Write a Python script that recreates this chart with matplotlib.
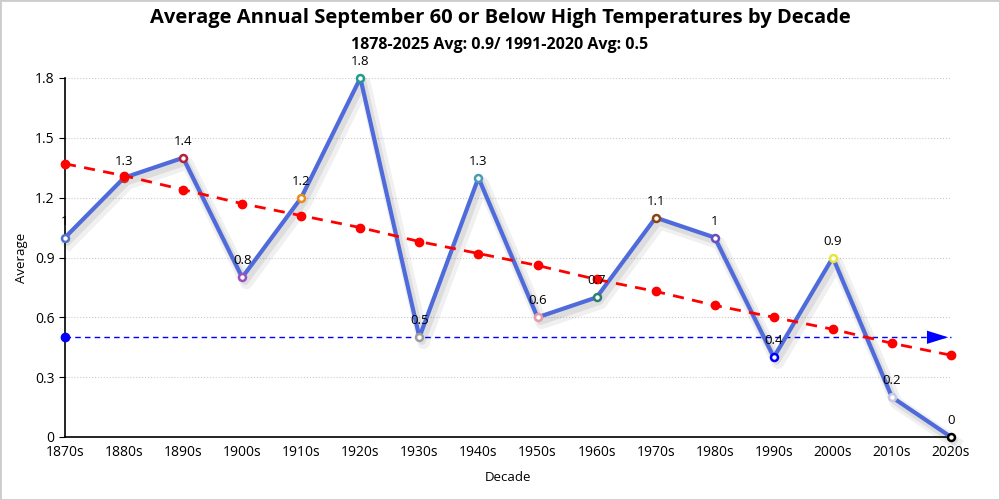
import numpy as np
import matplotlib.pyplot as plt
import matplotlib.patheffects as pe
from matplotlib.patches import Rectangle

plt.rcParams['font.family'] = ['Open Sans', 'DejaVu Sans']

# Data
decades = ['1870s', '1880s', '1890s', '1900s', '1910s', '1920s', '1930s', '1940s',
           '1950s', '1960s', '1970s', '1980s', '1990s', '2000s', '2010s', '2020s']
averages = [1, 1.3, 1.4, 0.8, 1.2, 1.8, 0.5, 1.3, 0.6, 0.7, 1.1, 1, 0.4, 0.9, 0.2, 0]
trend = [1.37, 1.31, 1.24, 1.17, 1.11, 1.05, 0.98, 0.92, 0.86, 0.79, 0.73, 0.66,
         0.60, 0.54, 0.47, 0.41]
normal_avg = 0.5
marker_colors = ['#5470c6', '#c23531', '#b0203f', '#9b4fc0', '#e88c1a', '#1f9c8c',
                 '#9e9e9e', '#4a9bb5', '#e89aa6', '#2e7d6e', '#8b4513', '#6a4fc0',
                 '#0000ff', '#e6e63c', '#c8c8e6', '#000000']

x = np.arange(len(decades))

fig = plt.figure(figsize=(10, 5), dpi=100)
ax = fig.add_axes([0.065, 0.126, 0.886, 0.718])

# main line with a soft shadow
shadow = [pe.SimpleLineShadow(offset=(3, -4), shadow_color='black', alpha=0.06, linewidth=9),
          pe.SimpleLineShadow(offset=(2, -3), shadow_color='black', alpha=0.08, linewidth=5),
          pe.Normal()]
ax.plot(x, averages, color='#4f6bdb', lw=3, zorder=3, clip_on=False, path_effects=shadow)
for xi, yi, c in zip(x, averages, marker_colors):
    ax.plot(xi, yi, marker='o', ms=5, mfc='white', mec=c, mew=1.8, zorder=5, clip_on=False)
    ax.text(xi, yi + 0.05, str(yi) if yi != int(yi) else str(int(yi)),
            ha='center', va='bottom', fontsize=9.5, zorder=7)

# 1991-2020 average line
ax.plot(x, [normal_avg] * len(x), color='blue', lw=1, ls=(0, (4, 3)), zorder=2, clip_on=False)
ax.plot(x[0], normal_avg, 'o', color='blue', ms=6, zorder=4, clip_on=False)
ax.annotate('', xy=(x[-1], normal_avg), xytext=(x[-1] - 0.5, normal_avg),
            arrowprops=dict(arrowstyle='-|>,head_length=0.9,head_width=0.28', color='blue',
                            lw=0, mutation_scale=17),
            zorder=4, annotation_clip=False)

# trend line
ax.plot(x, trend, color='red', lw=2, ls=(0, (4, 3)), marker='o', ms=6, zorder=6, clip_on=False)

ax.set_xlim(0, len(x) - 1)
ax.set_ylim(0, 1.8)
ax.set_yticks([0, 0.3, 0.6, 0.9, 1.2, 1.5, 1.8])
ax.set_yticklabels(['0', '0.3', '0.6', '0.9', '1.2', '1.5', '1.8'])
ax.set_xticks(x)
ax.set_xticklabels(decades)
ax.tick_params(axis='x', length=0, labelsize=10, pad=6)
ax.tick_params(axis='y', length=4, labelsize=10)
ax.yaxis.grid(True, ls=':', color='#cccccc', lw=0.8)
ax.set_axisbelow(True)
for s in ['top', 'right']:
    ax.spines[s].set_visible(False)
ax.spines['left'].set_linewidth(1.2)
ax.spines['bottom'].set_linewidth(1.2)

ax.set_xlabel('Decade', fontsize=9.5, labelpad=8)
ax.set_ylabel('Average', fontsize=9.5)
ax.yaxis.set_label_coords(-0.042, 0.5)

fig.text(0.5, 0.965, 'Average Annual September 60 or Below High Temperatures by Decade',
         ha='center', va='center', fontsize=14.5, fontweight='bold')
fig.text(0.5, 0.91, '1878-2025 Avg: 0.9/ 1991-2020 Avg: 0.5',
         ha='center', va='center', fontsize=11.5, fontweight='bold')

fig.patches.append(Rectangle((0, 0), 1, 1, transform=fig.transFigure, fill=False,
                             edgecolor='#cccccc', lw=2))

plt.savefig('out.png', dpi=100)
